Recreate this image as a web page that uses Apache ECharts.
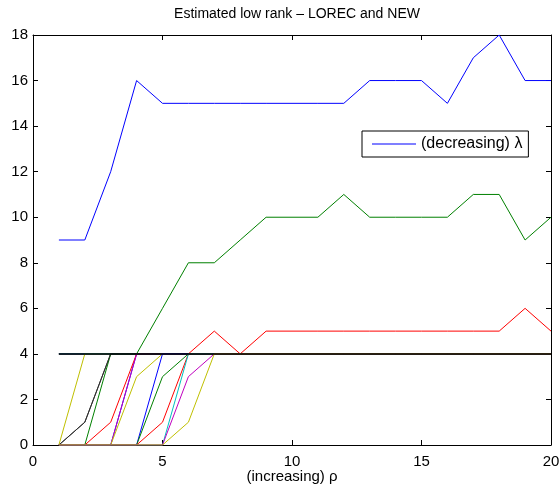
<!DOCTYPE html>
<html>
<head>
<meta charset="utf-8">
<script src="https://cdn.jsdelivr.net/npm/echarts@6/dist/echarts.min.js"></script>
<style>
  html, body { margin: 0; padding: 0; background: #fff; }
  #chart { width: 560px; height: 486px; }
</style>
</head>
<body>
<div id="chart"></div>
<script>
// rho values on the x axis
const rho = [1, 2, 3, 4, 5, 6, 7, 8, 9, 10, 11, 12, 13, 14, 15, 16, 17, 18, 19, 20];

// estimated rank for each lambda (ordered by decreasing lambda)
const rank01 = [9, 9, 12, 16, 15, 15, 15, 15, 15, 15, 15, 15, 16, 16, 16, 15, 17, 18, 16, 16];
const rank02 = [4, 4, 4, 4, 6, 8, 8, 9, 10, 10, 10, 11, 10, 10, 10, 10, 11, 11, 9, 10];
const rank03 = [4, 4, 4, 4, 4, 4, 5, 4, 5, 5, 5, 5, 5, 5, 5, 5, 5, 5, 6, 5];
const rank04 = [4, 4, 4, 4, 4, 4, 4, 4, 4, 4, 4, 4, 4, 4, 4, 4, 4, 4, 4, 4];
const rank05 = [4, 4, 4, 4, 4, 4, 4, 4, 4, 4, 4, 4, 4, 4, 4, 4, 4, 4, 4, 4];
const rank06 = [0, 4, 4, 4, 4, 4, 4, 4, 4, 4, 4, 4, 4, 4, 4, 4, 4, 4, 4, 4];
const rank07 = [0, 1, 4, 4, 4, 4, 4, 4, 4, 4, 4, 4, 4, 4, 4, 4, 4, 4, 4, 4];
const rank08 = [0, 0, 0, 4, 4, 4, 4, 4, 4, 4, 4, 4, 4, 4, 4, 4, 4, 4, 4, 4];
const rank09 = [0, 0, 4, 4, 4, 4, 4, 4, 4, 4, 4, 4, 4, 4, 4, 4, 4, 4, 4, 4];
const rank10 = [0, 0, 1, 4, 4, 4, 4, 4, 4, 4, 4, 4, 4, 4, 4, 4, 4, 4, 4, 4];
const rank11 = [4, 4, 4, 4, 4, 4, 4, 4, 4, 4, 4, 4, 4, 4, 4, 4, 4, 4, 4, 4];
const rank12 = [0, 0, 0, 4, 4, 4, 4, 4, 4, 4, 4, 4, 4, 4, 4, 4, 4, 4, 4, 4];
const rank13 = [0, 0, 0, 3, 4, 4, 4, 4, 4, 4, 4, 4, 4, 4, 4, 4, 4, 4, 4, 4];
const rank14 = [0, 1, 4, 4, 4, 4, 4, 4, 4, 4, 4, 4, 4, 4, 4, 4, 4, 4, 4, 4];
const rank15 = [0, 0, 0, 0, 4, 4, 4, 4, 4, 4, 4, 4, 4, 4, 4, 4, 4, 4, 4, 4];
const rank16 = [0, 0, 0, 0, 3, 4, 4, 4, 4, 4, 4, 4, 4, 4, 4, 4, 4, 4, 4, 4];
const rank17 = [0, 0, 0, 0, 1, 4, 4, 4, 4, 4, 4, 4, 4, 4, 4, 4, 4, 4, 4, 4];
const rank18 = [0, 0, 0, 0, 0, 4, 4, 4, 4, 4, 4, 4, 4, 4, 4, 4, 4, 4, 4, 4];
const rank19 = [0, 0, 0, 0, 0, 3, 4, 4, 4, 4, 4, 4, 4, 4, 4, 4, 4, 4, 4, 4];
const rank20 = [0, 0, 0, 0, 0, 1, 4, 4, 4, 4, 4, 4, 4, 4, 4, 4, 4, 4, 4, 4];
const rank21 = [4, 4, 4, 4, 4, 4, 4, 4, 4, 4, 4, 4, 4, 4, 4, 4, 4, 4, 4, 4];

const allRanks = [rank01, rank02, rank03, rank04, rank05, rank06, rank07,
                  rank08, rank09, rank10, rank11, rank12, rank13, rank14,
                  rank15, rank16, rank17, rank18, rank19, rank20, rank21];

const legendName = '(decreasing) \u03bb';
const titleText = 'Estimated low rank \u2013 LOREC and NEW';
const xName = '(increasing) \u03c1';

// classic line colour cycle
const palette = ['#0000ff', '#008000', '#ff0000', '#00bfbf', '#bf00bf', '#bfbf00', '#303030'];

const font = 'Liberation Sans, Arial, sans-serif';

const series = allRanks.map((vals, i) => {
  const last = i === allRanks.length - 1;
  const color = last ? '#000' : palette[i % palette.length];
  return {
    name: i === 0 ? legendName : 'r' + (i + 1),
    type: 'line',
    data: rho.map((x, j) => [x, vals[j]]),
    symbol: 'none',
    silent: true,
    animation: false,
    lineStyle: { width: last ? 1.5 : 1, color: color },
    itemStyle: { color: color }
  };
});

const chart = echarts.init(document.getElementById('chart'), null, { renderer: 'canvas' });

// boxed axes with inward ticks on all four sides
function boxAxis(extra) {
  return Object.assign({
    type: 'value',
    axisLine: { show: true, onZero: false, lineStyle: { color: '#000', width: 1 } },
    axisTick: { show: true, inside: true, length: 5, lineStyle: { color: '#000' } },
    splitLine: { show: false }
  }, extra);
}

const labelStyle = { fontFamily: font, fontSize: 15, color: '#000' };

chart.setOption({
  backgroundColor: '#fff',
  animation: false,
  title: {
    text: titleText,
    left: 292,
    top: 2,
    textAlign: 'center',
    textStyle: { fontFamily: font, fontSize: 14, fontWeight: 'normal', color: '#000' }
  },
  legend: {
    data: [{ name: legendName, icon: 'rect' }],
    left: 362,
    top: 131,
    orient: 'vertical',
    backgroundColor: '#fff',
    borderColor: '#000',
    borderWidth: 1,
    borderRadius: 0,
    padding: [5, 6, 5, 10],
    itemWidth: 44,
    itemHeight: 1,
    itemGap: 4,
    textStyle: { fontFamily: font, fontSize: 16, color: '#000' }
  },
  grid: { left: 33, right: 9, top: 35, bottom: 41, outerBoundsMode: 'none', containLabel: false },
  xAxis: [
    boxAxis({
      min: 0, max: 20, interval: 5, position: 'bottom',
      name: xName, nameLocation: 'middle', nameGap: 24, nameMoveOverlap: false,
      nameTextStyle: Object.assign({ verticalAlign: 'top' }, labelStyle),
      axisLabel: Object.assign({ margin: 9 }, labelStyle)
    }),
    boxAxis({ min: 0, max: 20, interval: 5, position: 'top', axisLabel: { show: false } })
  ],
  yAxis: [
    boxAxis({
      min: 0, max: 18, interval: 2, position: 'left',
      axisLabel: Object.assign({ margin: 5 }, labelStyle)
    }),
    boxAxis({ min: 0, max: 18, interval: 2, position: 'right', axisLabel: { show: false } })
  ],
  series: series
});
</script>
</body>
</html>
